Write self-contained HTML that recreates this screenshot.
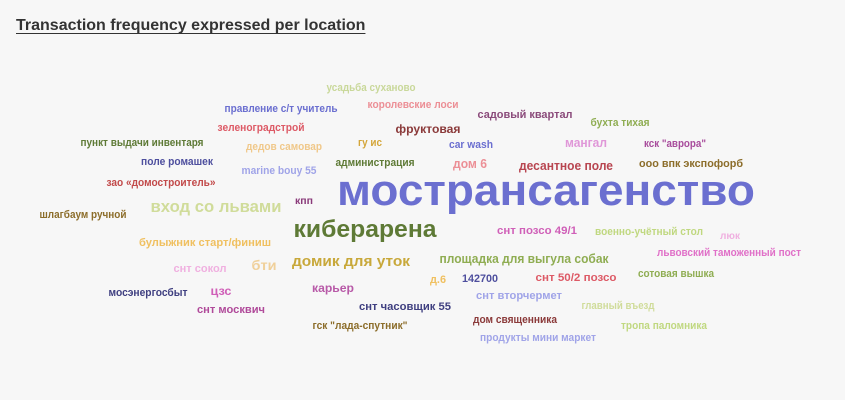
<!DOCTYPE html>
<html><head><meta charset="utf-8">
<style>
html,body{margin:0;padding:0;background:#f7f7f7;width:845px;height:400px;overflow:hidden}
.title{position:absolute;left:16px;top:17px;font:bold 16px "Liberation Sans",sans-serif;color:#333;text-decoration:underline;text-underline-offset:3px;margin:0}
svg{position:absolute;left:0;top:0}
text{font-family:"Liberation Sans","Noto Sans CJK SC",sans-serif;font-weight:bold;text-anchor:middle}
</style></head><body>
<h1 class="title">Transaction frequency expressed per location</h1>
<svg id="cloud" width="845" height="400"></svg>
<script>
const words=["усадьба суханово","правление с/т учитель","королевские лоси","садовый квартал","зеленоградстрой","фруктовая","бухта тихая","пункт выдачи инвентаря","дедов самовар","гу ис","car wash","мангал","кск \"аврора\"","поле ромашек","администрация","дом 6","десантное поле","ооо впк экспофорб","marine bouy 55","зао «домостроитель»","мострансагенство","кпп","вход со львами","шлагбаум ручной","киберарена","снт позсо 49/1","военно-учётный стол","люк","булыжник старт/финиш","львовский таможенный пост","бти","домик для уток","площадка для выгула собак","снт сокол","д.6","142700","снт 50/2 позсо","сотовая вышка","карьер","мосэнергосбыт","цзс","снт вторчермет","главный въезд","снт часовщик 55","снт москвич","дом священника","гск \"лада-спутник\"","тропа паломника","продукты мини маркет"];
const freq=[11,11,11,11,11,12,11,11,11,11,11,13,11,11,11,13,13,11,11,11,44,10,17,11,24,11,11,10,11,11,14,15,13,11,11,11,11,11,12,11,12,11,11,11,11,11,11,11,11];
const cx=[371,281,413,525,261,428,620,142,284,370,471,586,675,177,375,470,566,691,279,161,546,304,216,83,365,537,649,730,205,729,264,351,524,200,438,480,576,676,333,148,221,519,618,405,231,515,360,664,538];
const cy=[91,112,108,118,131,133,126,146,150,146,148,147,147,165,166,168,170,167,174,186,205,204,212,218,237,234,235,239,246,256,270,266,263,272,283,282,281,277,292,296,295,299,309,310,313,323,329,329,341];
const wd=[89,113,91,95,87,65,59,123,76,24,44,42,62,72,79,34,94,104,75,109,418,18,131,87,143,80,108,20,132,144,25,118,169,53,16,36,81,76,42,79,21,86,73,92,68,84,95,86,116];
const colors=["#c9d89a","#6b6fd0","#ec8f96","#8a4a7a","#dd5a66","#8b3a3a","#8fad52","#5e7a36","#f0c88a","#d4a63a","#6b6fd0","#e097d8","#a84c9c","#4e4f9e","#5e7a36","#ec8f96","#b84550","#8c6d2a","#a0a4e8","#c24a4a","#6b6fd0","#8a3a7a","#d0dc9a","#8c6d2a","#5e7a36","#d060b8","#c0d880","#f0b0e0","#f0c060","#e070c8","#f0d09a","#c8a83a","#8fad52","#f0b0e0","#f0c060","#4e4f9e","#dd5a66","#8fad52","#b85aa8","#3f3f80","#d060b8","#a0a4e8","#d0dc9a","#3f3f80","#b04a9a","#8b3a3a","#8c6d2a","#c0d880","#a0a4e8"];
const svg=document.getElementById('cloud');
const NS='http://www.w3.org/2000/svg';
words.forEach((w,i)=>{
  const t=document.createElementNS(NS,'text');
  t.setAttribute('x',cx[i]);
  t.setAttribute('y',cy[i]);
  t.setAttribute('font-size',freq[i]);
  t.setAttribute('fill',colors[i]);
  t.setAttribute('textLength',wd[i]);
  t.setAttribute('lengthAdjust','spacingAndGlyphs');
  
  
  t.textContent=w;
  svg.appendChild(t);
});
</script>
</body></html>
